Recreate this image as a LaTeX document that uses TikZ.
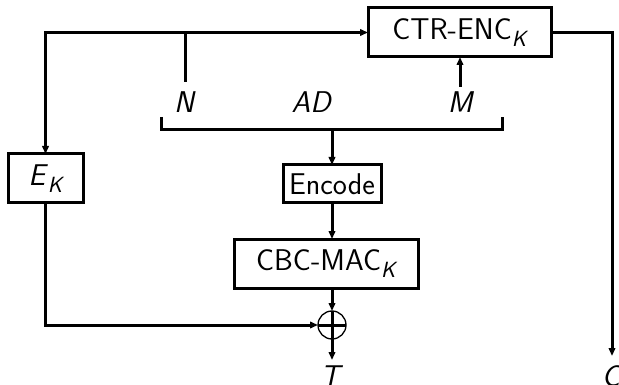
\documentclass[tikz,border=0pt]{standalone}
\usepackage{amsmath}
\usetikzlibrary{arrows.meta,calc}
\newcommand\vit[1]{\textit{#1}}
\newcommand\subk{$_{\text{\fontsize{22}{24}\selectfont\itshape K}}$}
\begin{document}
\begin{tikzpicture}[x=1pt,y=-1pt,
  font=\sffamily\fontsize{30}{34}\selectfont,
  line width=3pt,
  >={Triangle[length=8pt,width=6.5pt]},
  blk/.style={draw,inner sep=0pt,outer sep=0pt},
  lbl/.style={inner sep=0pt}]
\useasboundingbox (0,0) rectangle (619,385);
\node[blk,minimum width=183pt,minimum height=49pt] (ctr) at (459.5,32.5) {CTR-ENC\subk};
\node[blk,minimum width=75pt,minimum height=49pt] (ek) at (45.5,178.5) {\vit{E}\subk};
\node[blk,minimum width=98pt,minimum height=38pt] (enc) at (332,184) {Encode};
\node[blk,minimum width=184pt,minimum height=49pt] (cbc) at (326,263.5) {CBC-MAC\subk};
\node[circle,draw,line width=1.3pt,minimum size=28pt,inner sep=0pt,outer sep=0pt] (xor) at (332,325) {};
\node[lbl] (N) at (185,102) {\vit{N}};
\node[lbl] (AD) at (312,102) {\vit{AD}};
\node[lbl] (M) at (461,102) {\vit{M}};
\coordinate (nj) at (185,32);
\coordinate (nend) at (185,82);
\coordinate (mtop) at (460,87);
\coordinate (bl) at (161,117);
\coordinate (br) at (502,117);
\coordinate (bm) at (332,130);
\coordinate (tend) at (332,360);
\coordinate (cend) at (612,356);
\node[lbl,anchor=north] (T) at (332,364) {\vit{T}};
\node[lbl,anchor=north] (C) at (612,364) {\vit{C}};
% top line
\draw[<->] (ek.north) |- (ctr.west);
\draw (nend) -- (nend |- ctr.west);
\draw[->] (ctr.east) -| (cend);
\draw[->] (mtop) -- (mtop |- ctr.south);
% bracket
\draw (bl) |- (bm) -| (br);
\draw[->] (bm) -- (enc.north);
\draw[->] (enc.south) -- (enc.south |- cbc.north);
\draw[->] (xor.north |- cbc.south) -- (xor.north);
\draw[->] (xor.north) -- (tend);
\draw[->] (ek.south) |- (xor.west);
\draw (xor.west) -- (xor.east);
\end{tikzpicture}
\end{document}
